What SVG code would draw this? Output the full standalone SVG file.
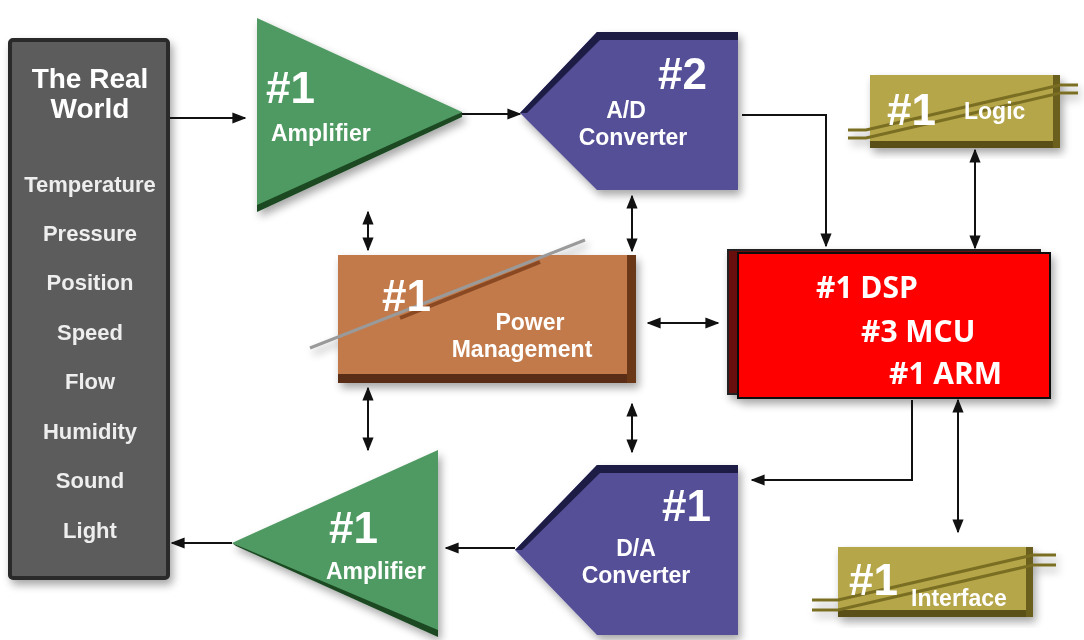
<svg xmlns="http://www.w3.org/2000/svg" width="1084" height="640" viewBox="0 0 1084 640">
<defs>
<filter id="sh" x="-10%" y="-10%" width="125%" height="125%"><feGaussianBlur in="SourceAlpha" stdDeviation="4"/><feOffset dx="3" dy="5"/><feComponentTransfer><feFuncA type="linear" slope="0.35"/></feComponentTransfer><feMerge><feMergeNode/><feMergeNode in="SourceGraphic"/></feMerge></filter>
<marker id="ah" viewBox="0 0 10 10" refX="9" refY="5" markerWidth="7" markerHeight="7" orient="auto-start-reverse"><path d="M0,1 L10,5 L0,9 z" fill="#111"/></marker>
</defs>
<style>
.w{fill:#fff;font-family:"Liberation Sans",Arial,sans-serif;font-weight:bold}
.rw{font-size:22px;text-anchor:middle;fill:#eee}
.big{font-size:44px}
.lbl{font-size:23px}
.cpu{fill:#fff;font-family:"Open Sans","Liberation Sans",sans-serif;font-weight:bold;font-size:30px}
.c{stroke:#111;stroke-width:2;fill:none}
</style>
<rect width="1084" height="640" fill="#fff"/>
<g id="real-world" filter="url(#sh)">
<rect x="10" y="40" width="158" height="538" rx="3" fill="#5c5c5c" stroke="#2a2a2a" stroke-width="4"/>
<text class="w" x="90" y="88" font-size="28" text-anchor="middle" fill="#eee">The Real</text>
<text class="w" x="90" y="118" font-size="28" text-anchor="middle" fill="#eee">World</text>
<text class="w rw" x="90" y="192">Temperature</text>
<text class="w rw" x="90" y="241">Pressure</text>
<text class="w rw" x="90" y="290">Position</text>
<text class="w rw" x="90" y="340">Speed</text>
<text class="w rw" x="90" y="389">Flow</text>
<text class="w rw" x="90" y="439">Humidity</text>
<text class="w rw" x="90" y="488">Sound</text>
<text class="w rw" x="90" y="538">Light</text>
</g>
<g id="amp-in" filter="url(#sh)">
<polygon points="257,18 462,112 257,210" fill="#4f9a62"/>
<polygon points="257,205 462,112 462,117 257,212" fill="#1a4a22"/>
<text class="w big" x="266" y="103" fill="#f2f2f2">#1</text>
<text class="w lbl" x="271" y="141" fill="#e8f5e0">Amplifier</text>
</g>
<g id="adc" filter="url(#sh)">
<polygon points="520,113 597,32 738,32 738,190 597,190" fill="#544f98"/>
<polygon points="520,113 597,32 738,32 738,40 600,40 527,113" fill="#1c1a45"/>
<text class="w big" x="658" y="89">#2</text>
<text class="w lbl" x="626" y="118" text-anchor="middle">A/D</text>
<text class="w lbl" x="633" y="145" text-anchor="middle">Converter</text>
</g>
<g id="power" filter="url(#sh)">
<rect x="338" y="255" width="298" height="128" fill="#c27a4c"/>
<rect x="338" y="374" width="298" height="9" fill="#5a2e12"/>
<rect x="627" y="255" width="9" height="128" fill="#6a3818"/>
<line x1="310" y1="348" x2="585" y2="240" stroke="#9a9a9a" stroke-width="3"/>
<line x1="400" y1="318" x2="540" y2="262" stroke="#8a4a20" stroke-width="4"/>
<text class="w big" x="382" y="311">#1</text>
<text class="w lbl" x="530" y="330" text-anchor="middle" fill="#fbeee4">Power</text>
<text class="w lbl" x="522" y="357" text-anchor="middle" fill="#fbeee4">Management</text>
</g>
<g id="cpu" filter="url(#sh)">
<rect x="728" y="250" width="312" height="144" fill="#6a0a0a" stroke="#222" stroke-width="2"/>
<rect x="738" y="253" width="312" height="145" fill="#ff0000" stroke="#111" stroke-width="2"/>
<text class="cpu" x="816" y="298">#1 DSP</text>
<text class="cpu" x="861" y="342">#3 MCU</text>
<text class="cpu" x="889" y="384">#1 ARM</text>
</g>
<g id="logic" filter="url(#sh)">
<rect x="870" y="75" width="190" height="73" fill="#b5a64a"/>
<rect x="870" y="141" width="190" height="7" fill="#5a5018"/>
<rect x="1053" y="75" width="7" height="73" fill="#6a5e1e"/>
<path d="M848,130 L866,130 L1060,85 L1078,85 M848,138 L866,138 L1060,93 L1078,93" stroke="#7a6e22" stroke-width="3" fill="none"/>
<text class="w big" x="887" y="125" fill="#f4f0da">#1</text>
<text class="w" x="964" y="119" font-size="23" fill="#f4f0da">Logic</text>
</g>
<g id="interface" filter="url(#sh)">
<rect x="838" y="547" width="195" height="70" fill="#b5a64a"/>
<rect x="838" y="610" width="195" height="7" fill="#5a5018"/>
<rect x="1026" y="547" width="7" height="70" fill="#6a5e1e"/>
<path d="M812,600 L838,600 L1033,555 L1056,555 M812,610 L838,610 L1033,565 L1056,565" stroke="#7a6e22" stroke-width="3" fill="none"/>
<text class="w big" x="849" y="595" fill="#f4f0da">#1</text>
<text class="w" x="911" y="606" font-size="23" fill="#f4f0da">Interface</text>
</g>
<g id="dac" filter="url(#sh)">
<polygon points="515,550 597,465 738,465 738,635 597,635" fill="#544f98"/>
<polygon points="515,550 597,465 738,465 738,473 600,473 522,550" fill="#1c1a45"/>
<text class="w big" x="662" y="521">#1</text>
<text class="w lbl" x="636" y="556" text-anchor="middle">D/A</text>
<text class="w lbl" x="636" y="583" text-anchor="middle">Converter</text>
</g>
<g id="amp-out" filter="url(#sh)">
<polygon points="438,450 438,636 232,543" fill="#4f9a62"/>
<polygon points="232,543 438,630 438,637 236,546" fill="#1a4a22"/>
<text class="w big" x="329" y="543" fill="#f2f2f2">#1</text>
<text class="w lbl" x="326" y="579" fill="#e8f5e0">Amplifier</text>
</g>
<g id="connectors">
<line class="c" x1="170" y1="118" x2="245" y2="118" marker-end="url(#ah)"/>
<line class="c" x1="462" y1="114" x2="520" y2="114" marker-end="url(#ah)"/>
<polyline class="c" points="742,115 826,115 826,246" marker-end="url(#ah)"/>
<line class="c" x1="368" y1="212" x2="368" y2="250" marker-start="url(#ah)" marker-end="url(#ah)"/>
<line class="c" x1="632" y1="196" x2="632" y2="251" marker-start="url(#ah)" marker-end="url(#ah)"/>
<line class="c" x1="648" y1="323" x2="718" y2="323" marker-start="url(#ah)" marker-end="url(#ah)"/>
<line class="c" x1="975" y1="150" x2="975" y2="248" marker-start="url(#ah)" marker-end="url(#ah)"/>
<line class="c" x1="368" y1="388" x2="368" y2="450" marker-start="url(#ah)" marker-end="url(#ah)"/>
<line class="c" x1="632" y1="404" x2="632" y2="452" marker-start="url(#ah)" marker-end="url(#ah)"/>
<line class="c" x1="958" y1="400" x2="958" y2="532" marker-start="url(#ah)" marker-end="url(#ah)"/>
<polyline class="c" points="912,400 912,480 752,480" marker-end="url(#ah)"/>
<line class="c" x1="515" y1="548" x2="446" y2="548" marker-end="url(#ah)"/>
<line class="c" x1="232" y1="543" x2="172" y2="543" marker-end="url(#ah)"/>
</g>
</svg>
